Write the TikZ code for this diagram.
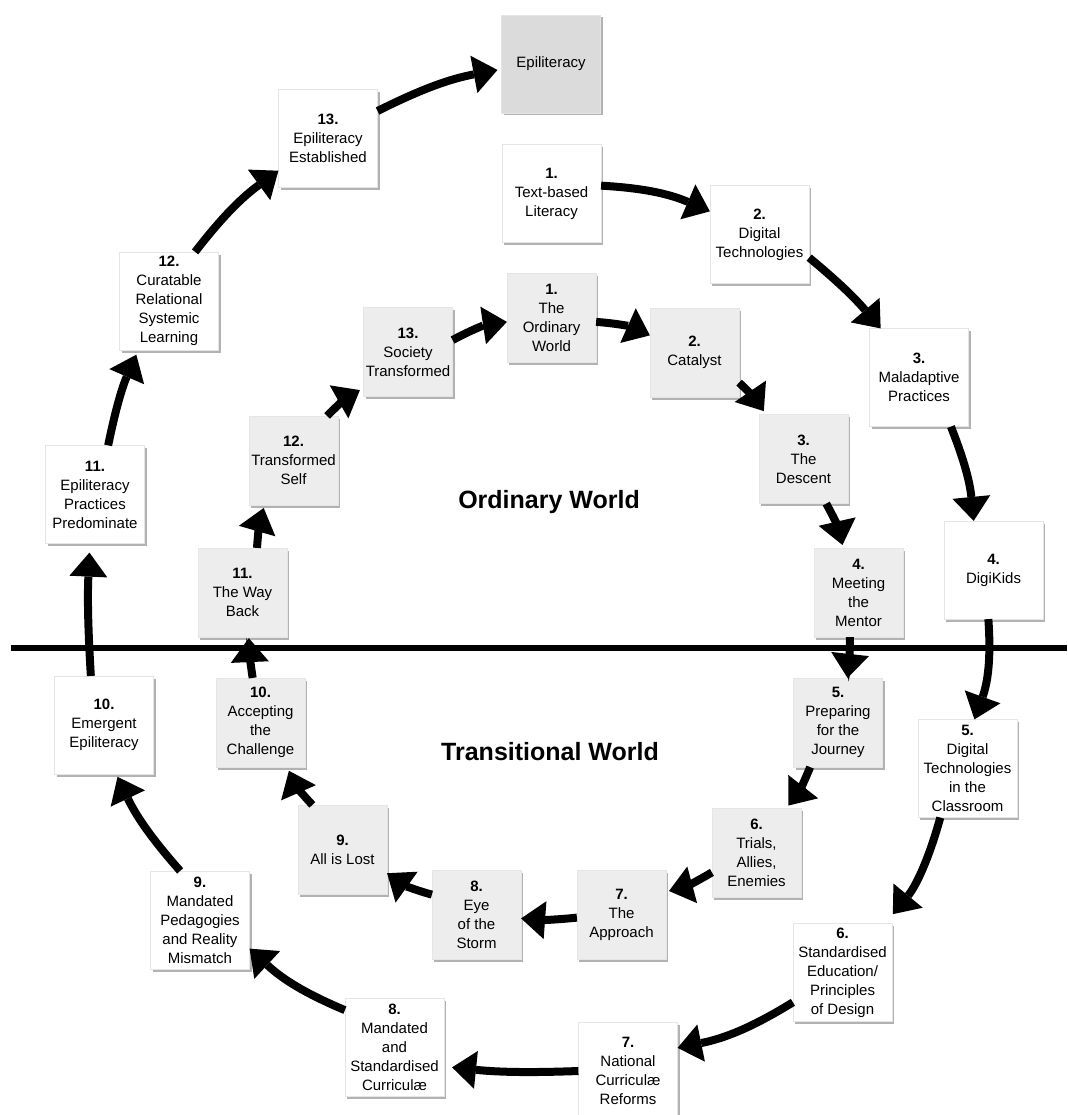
\documentclass[tikz,border=0pt]{standalone}
\usepackage{fontspec}
\setmainfont{Liberation Sans}
\usetikzlibrary{arrows.meta,shadows}

\begin{document}
\begin{tikzpicture}[x=1pt,y=-1pt,
box/.style={minimum width=99pt,
  minimum height=98pt,
  inner sep=1pt,
  fill=white,draw=black!10,very thin,align=center,
  drop shadow={shadow xshift=2pt,shadow yshift=-2.5pt,fill=black,opacity=0.3},
  node font=\fontsize{15}{19}\selectfont
},
stage/.style={box,minimum width=89pt,minimum height=89pt,fill=black!7},
goal/.style={box,fill=black!14},
arr/.style={line width=8pt,-{Triangle[length=24pt,width=38pt,line width=0pt]}},
world/.style={node font=\fontsize{25}{30}\selectfont\bfseries}
]
\useasboundingbox (0,0) rectangle (1067,1115);

% divider between the two worlds
\coordinate (divl) at (11,648);
\coordinate (divr) at (1067,648);
\draw [line width=5.5pt] (divl) -- (divr);

\node (ordw) [world] at (549,502) {Ordinary World};
\node (tranw) [world] at (550,752) {Transitional World};

% outer cycle
\node (epi) [goal] at (551,64) {Epiliteracy};
\node (o1) [box] at (551.5,193.5) {\textbf{1.}\\Text-based\\Literacy};
\node (o2) [box] at (759.5,234.5) {\textbf{2.}\\Digital\\Technologies};
\node (o3) [box] at (919,377.5) {\textbf{3.}\\Maladaptive\\Practices};
\node (o4) [box] at (993.5,570) {\textbf{4.}\\DigiKids};
\node (o5) [box] at (967.5,768.5) {\textbf{5.}\\Digital\\Technologies\\in the\\Classroom};
\node (o6) [box] at (842.5,972.5) {\textbf{6.}\\Standardised\\Education/\\Principles\\of Design};
\node (o7) [box] at (628,1071) {\textbf{7.}\\National\\Curriculæ\\Reforms};
\node (o8) [box] at (394.5,1047.5) {\textbf{8.}\\Mandated\\and\\Standardised\\Curriculæ};
\node (o9) [box] at (200,920) {\textbf{9.}\\Mandated\\Pedagogies\\and Reality\\Mismatch};
\node (o10) [box] at (104,725) {\textbf{10.}\\Emergent\\Epiliteracy};
\node (o11) [box] at (95,494.5) {\textbf{11.}\\Epiliteracy\\Practices\\Predominate};
\node (o12) [box] at (169,301) {\textbf{12.}\\Curatable\\Relational\\Systemic\\Learning};
\node (o13) [box] at (328,138.5) {\textbf{13.}\\Epiliteracy\\Established};

% inner cycle
\node (i1) [stage] at (551.5,318) {\textbf{1.}\\The\\Ordinary\\World};
\node (i2) [stage] at (694.5,352.5) {\textbf{2.}\\Catalyst};
\node (i3) [stage] at (803.5,459) {\textbf{3.}\\The\\Descent};
\node (i4) [stage] at (858.5,592.5) {\textbf{4.}\\Meeting\\the\\Mentor};
\node (i5) [stage] at (838,722.5) {\textbf{5.}\\Preparing\\for the\\Journey};
\node (i6) [stage] at (756.5,852.5) {\textbf{6.}\\Trials,\\Allies,\\Enemies};
\node (i7) [stage] at (621.5,914.5) {\textbf{7.}\\The\\Approach};
\node (i8) [stage] at (476.5,914.5) {\textbf{8.}\\Eye\\of the\\Storm};
\node (i9) [stage] at (342.5,849.5) {\textbf{9.}\\All is Lost};
\node (i10) [stage] at (260.5,722.5) {\textbf{10.}\\Accepting\\the\\Challenge};
\node (i11) [stage] at (242.5,592.5) {\textbf{11.}\\The Way\\Back};
\node (i12) [stage] at (293.5,460.5) {\textbf{12.}\\Transformed\\Self};
\node (i13) [stage] at (408,352) {\textbf{13.}\\Society\\Transformed};

\draw [arr] (o1.9) to [bend left=10] (o2.155);
\draw [arr] (o2.-25) to [bend left=5] (o3.128);
\draw [arr] (o3.-57) to [bend left=8] (o4.112);
\draw [arr] (o4.-96) to [bend left=12] (o5.82);
\draw [arr,shorten >=12pt] (o5.-119) to [bend left=12] (o6.49);
\draw [arr] (o6.-149) to [bend left=10] (o7.25);
\draw [arr,shorten >=8pt] (o7.180) to [bend left=4] (o8.-21);
\draw [arr] (o8.143) to [bend left=10] (o9.-30);
\draw [arr,shorten >=3pt] (o9.112) to [bend left=8] (o10.-76);
\draw [arr,shorten >=9pt] (o10.105) to [bend left=3] (o11.-96);
\draw [arr,shorten >=5pt] (o11.75) to [bend left=6] (o12.-122);
\draw [arr] (o12.62) to [bend left=8] (o13.-147);
\draw [arr,shorten >=4pt] (o13.29) to [bend left=8] (epi.-174);

\draw [arr] (i13.15) to [bend left=10] (i1.-175);
\draw [arr] (i1.-5) to [bend left=10] (i2.159);
\draw [arr,shorten >=4pt] (i2.-34) to [bend left=6] (i3.130);
\draw [arr,shorten >=3pt] (i3.-63) to [bend left=8] (i4.109);
\draw [arr] (i4.-101) to [bend left=3] (i5.78);
\draw [arr,shorten >=3pt] (i5.-122) to [bend left=8] (i6.56);
\draw [arr,shorten >=3pt] (i6.204) to [bend left=8] (i7.27);
\draw [arr] (i7.184) to [bend left=5] (i8.-5);
\draw [arr] (i8.156) to [bend left=10] (i9.-28);
\draw [arr,shorten >=4pt] (i9.124) to [bend left=10] (i10.-59);
\draw [arr,shorten >=1pt] (i10.100) to [bend left=3] (i11.-82);
\draw [arr,shorten >=3pt] (i11.72) to [bend left=6] (i12.-123);
\draw [arr,shorten >=4pt] (i12.53) to [bend left=8] (i13.-141);

\end{tikzpicture}
\end{document}
